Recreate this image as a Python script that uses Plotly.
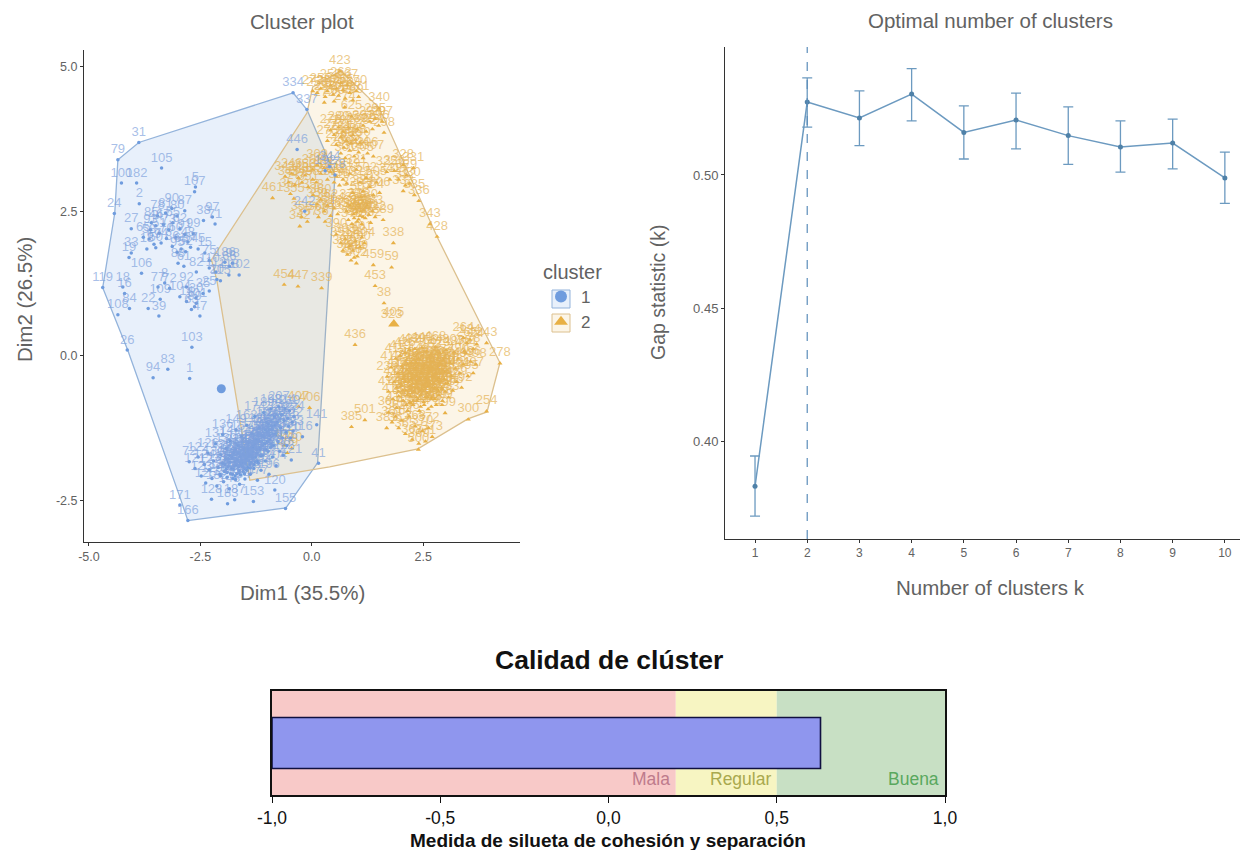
import plotly.graph_objects as go

# ---------- Cluster plot data ----------
blue_hull_x = [-0.42, -0.11, 0.52, 0.13, -0.58, -2.78, -2.96, -4.13, -4.69, -4.42, -4.35, -3.88, -0.42]
blue_hull_y = [4.55, 4.26, 3.13, -1.85, -2.63, -2.85, -2.44, 0.10, 1.18, 2.47, 3.39, 3.69, 4.55]
orange_hull_x = [0.65, 1.51, 2.81, 4.22, 3.93, 3.50, 2.38, 0.40, -1.39, -1.66, -2.13, -2.25, -0.11, 0.02, 0.65]
orange_hull_y = [4.93, 4.29, 2.06, -0.12, -0.97, -1.09, -1.61, -1.92, -2.15, -0.88, 1.31, 1.66, 4.20, 4.65, 4.93]

blue_upper_x = [-0.42, -0.11, -3.88, -4.35, -3.37, -4.27, -3.93, -3.87, -2.61, -2.63, -4.43, -4.05, -3.60,
                -3.46, -3.28, -3.14, -3.02, -2.85, -2.43, -2.23, -2.17, -3.62, -3.50, -3.42, -3.33, -3.21,
                -3.12, -3.05, -2.96, -2.85, -2.78, -2.66, -3.78, -3.65, -3.54, -3.38, -3.26, -3.13, -3.02,
                -2.93, -2.83, -2.72, -2.55, -2.40, -2.30, -4.05, -3.70, -3.50, -4.10, -3.00, -2.87, -2.59,
                -2.30, -2.15, -1.95, -1.85, -1.78, -2.05, -1.86, -1.63, -2.30, -2.13, -3.82, -3.30, -3.19,
                -3.40, -2.60, -4.69, -4.35, -4.09, -3.67, -3.43, -2.51, -3.45, -2.81, -4.24, -4.20, -2.96,
                -2.81, -2.59, -2.44, -2.63, -2.70, -0.33, -0.16, 0.40, 0.52, 0.30]
blue_upper_y = [4.55, 4.26, 3.69, 3.39, 3.25, 2.99, 2.99, 2.63, 2.92, 2.84, 2.46, 2.20, 2.30,
                2.42, 2.47, 2.55, 2.42, 2.51, 2.34, 2.40, 2.28, 2.18, 2.25, 2.12, 2.27, 2.18,
                2.30, 2.05, 2.20, 2.10, 1.97, 2.11, 2.05, 2.02, 1.93, 1.95, 2.03, 1.89, 1.79,
                1.85, 1.80, 1.88, 1.85, 1.78, 1.65, 1.78, 1.85, 1.87, 1.70, 1.60, 1.55, 1.45,
                1.52, 1.45, 1.62, 1.55, 1.60, 1.30, 1.40, 1.40, 1.12, 1.32, 1.43, 1.26, 1.17,
                0.98, 1.00, 1.18, 0.71, 0.82, 0.82, 0.69, 0.69, 1.19, 1.19, 1.19, 1.08, 1.02,
                0.94, 0.91, 1.08, 0.85, 0.80, 3.57, 2.50, 3.27, 3.13, 3.20]
blue_upper_labels = """334 337 31 79 105 100 182 2 5 107 24 27 85
78 81 90 80 87 38 97 71 93 44 51 67 73
55 60 62 91 48 99 65 58 69 74 70 86 95
68 52 57 45 15 75 33 13 50 19 88 61 82
110 112 186 66 98 115 118 102 25 20 106 8 72
109 30 119 108 84 22 39 47 77 92 18 16 104
14 101 35 89 63 446 242 344 178 192""".split()

blue_lower_x = [-4.14, -2.69, -3.23, -3.56, -2.74, -2.96, -2.78, -0.59, 0.15, 0.11, -0.21, -1.31, -1.89, -2.25, -1.73, -0.83]
blue_lower_y = [0.10, 0.15, -0.23, -0.38, -0.39, -2.58, -2.85, -2.64, -1.86, -1.19, -1.40, -2.52, -2.56, -2.48, -2.49, -2.32]
blue_lower_labels = "26 103 83 94 1 171 166 155 41 141 116 153 183 128 187 120".split()

blue_blob_x = [-2.75, -2.62, -2.55, -2.48, -2.41, -2.38, -2.33, -2.30, -2.24, -2.20, -2.16, -2.13, -2.10, -2.06, -2.04,
               -2.00, -1.98, -1.95, -1.92, -1.90, -1.87, -1.85, -1.83, -1.80, -1.77, -1.75, -1.73, -1.70, -1.68, -1.66,
               -1.64, -1.62, -1.60, -1.58, -1.56, -1.54, -1.52, -1.50, -1.48, -1.46, -1.44, -1.42, -1.40, -1.38, -1.36,
               -1.34, -1.32, -1.30, -1.28, -1.26, -1.24, -1.22, -1.20, -1.18, -1.16, -1.14, -1.12, -1.10, -1.08, -1.06,
               -1.04, -1.02, -1.00, -0.98, -0.96, -0.94, -0.92, -0.90, -0.88, -0.86, -0.84, -0.82, -0.80, -0.78, -0.76,
               -0.74, -0.72, -0.70, -0.68, -0.66, -0.64, -0.62, -0.60, -0.58, -0.56, -0.54, -0.52, -0.50, -0.48, -0.46,
               -0.44, -0.42, -0.40, -1.92, -1.85, -1.78, -1.74, -1.71, -1.67, -1.63, -1.59, -1.55, -1.51, -1.47, -1.43,
               -1.39, -1.35, -1.31, -1.27, -1.23, -1.19, -1.15, -1.11, -1.07, -1.03, -0.99, -0.95, -0.91, -0.87, -0.83]
blue_blob_y = [-1.83, -1.95, -1.75, -2.08, -1.88, -2.20, -1.68, -1.97, -2.12, -1.82, -1.52, -2.25, -1.93, -2.05, -1.71,
               -1.36, -2.18, -1.88, -1.60, -2.02, -1.78, -2.30, -1.47, -1.95, -2.12, -1.67, -1.83, -1.28, -2.04, -1.55,
               -1.92, -2.22, -1.74, -1.40, -1.85, -2.00, -1.62, -2.13, -1.79, -1.20, -1.93, -1.50, -1.70, -2.05, -1.84,
               -1.35, -1.60, -1.95, -1.05, -1.75, -1.45, -2.15, -1.86, -1.25, -1.62, -1.98, -1.38, -1.72, -0.98, -1.52,
               -1.82, -1.15, -1.32, -1.65, -2.05, -1.45, -0.92, -1.22, -1.75, -1.55, -1.05, -1.35, -1.90, -1.15, -1.48,
               -0.88, -1.65, -1.25, -1.02, -1.42, -1.72, -1.12, -0.92, -1.32, -1.55, -1.08, -1.22, -0.95, -1.42, -1.80,
               -1.15, -1.30, -1.05, -1.96, -1.72, -2.05, -1.90, -1.62, -1.80, -2.02, -1.88, -1.70, -1.95, -1.78, -1.62,
               -1.88, -1.72, -1.55, -1.83, -1.62, -1.48, -1.73, -1.55, -1.40, -1.62, -1.48, -1.28, -1.53, -1.35, -1.20]
blue_blob_labels = """72 121 122 123 124 125 126 127 129 130 131 132 133 134 135
136 137 138 139 140 142 143 144 145 146 147 148 149 150 151
152 154 156 157 158 159 160 161 162 163 164 165 167 168 169
170 172 173 174 175 176 177 179 180 181 184 185 188 189 190
191 193 194 195 196 197 198 199 200 201 202 203 204 205 206
207 208 209 210 211 212 213 214 215 216 217 218 219 220 221
222 223 224 225 226 227 228 229 230 231 232 233 234 235 236
237 238 239 240 241 243 244 245 246 247 248 249 250 251 252""".split()
blue_core_x = [-2.05, -2.00, -1.96, -1.93, -1.90, -1.88, -1.84, -1.82, -1.79, -1.76, -1.72, -1.69, -1.66, -1.63, -1.60,
               -1.57, -1.55, -1.52, -1.49, -1.46, -1.44, -1.41, -1.38, -1.35, -1.33, -1.30, -1.27, -1.24, -1.22, -1.19,
               -1.16, -1.13, -1.10, -1.07, -1.04, -1.01, -0.98, -0.95, -0.92, -0.89, -1.71, -1.61, -1.51, -1.42, -1.32]
blue_core_y = [-2.08, -1.86, -2.00, -1.78, -2.10, -1.92, -1.84, -2.04, -1.76, -1.96, -2.08, -1.88, -1.68, -1.98, -2.06,
               -1.80, -1.92, -1.72, -1.86, -1.98, -1.66, -1.82, -1.94, -1.58, -1.76, -1.88, -1.52, -1.68, -1.82, -1.46,
               -1.58, -1.72, -1.40, -1.62, -1.28, -1.50, -1.18, -1.38, -1.58, -1.28, -2.14, -1.84, -2.04, -1.74, -1.66]
blue_core_labels = """4 6 7 9 10 11 12 17 21 23 28 29 32 34 36
37 40 42 43 46 49 53 54 56 59 64 76 96 111 113
114 117 119 121 122 123 124 125 126 127 129 130 131 132 133""".split()

orange_upper_x = [0.63, 1.51, 0.89, 0.12, 0.20, 0.30, 0.35, 0.42, 0.48, 0.50, 0.55, 0.60, 0.65, 0.70, 0.75, 0.80, 0.85, 0.92, 1.00, 1.05, 0.28, 0.02, 0.74,
                  0.35, 0.42, 0.50, 0.55, 0.60, 0.65, 0.70, 0.72, 0.78, 0.82, 0.88, 0.92, 0.98, 1.02, 1.08, 1.15, 1.22, 1.30, 1.36, 1.42, 1.50, 1.58, 1.62,
                  0.65, 0.75, 0.85, 0.95, 1.05, 1.15, 1.25, 1.38,
                  0.02, 0.12, 0.20, 0.28, 0.35, 0.42, 0.50, 0.55, 0.62, 0.70, 0.78, 0.85, 0.92, 1.00, 1.08, 1.15, 1.22, 1.30, 1.38, 1.45, 1.52, 1.10,
                  1.68, 1.85, 1.95, 2.05, 2.12, 2.20, 2.28, 2.10, 2.05, 2.30, 2.40, 1.75,
                  -0.60, -0.52, -0.45, -0.38, -0.30, -0.22, -0.15, -0.08, 0.02, 0.10, -0.48, -0.40, -0.88, -0.27, -0.23, -0.10,
                  0.03, 0.12, 0.20, 0.28, 0.35, 0.42, 0.50, 0.58, 0.15, 0.30,
                  0.78, 0.82, 0.86, 0.90, 0.94, 0.98, 1.02, 1.05, 1.08, 1.12, 1.16, 1.20, 1.24, 1.28, 1.32, 1.36, 1.42, 0.95, 1.00, 1.10, 1.15, 1.05, 1.60, 0.55,
                  0.65, 0.70, 0.75, 0.80, 0.85, 0.88, 0.92, 0.98, 1.02, 1.08, 1.12, 1.00, 0.95, 1.18,
                  2.81, 2.65, 1.83, 1.38, 1.79, 1.42, 1.62, -0.62, -0.31, 0.22, 0.97, 1.79, 1.83, 0.89, -0.05, -0.30, -0.62, -0.55, -0.45]
orange_upper_y = [4.92, 4.28, 4.14, 4.55, 4.62, 4.48, 4.58, 4.68, 4.52, 4.40, 4.62, 4.50, 4.72, 4.60, 4.45, 4.68, 4.55, 4.42, 4.58, 4.48, 4.38, 4.58, 4.30,
                  3.72, 3.90, 3.82, 3.65, 3.95, 3.78, 3.88, 3.60, 3.72, 3.95, 3.68, 3.82, 3.74, 3.92, 3.68, 3.98, 3.88, 4.05, 3.92, 4.10, 3.98, 4.05, 3.86,
                  3.50, 3.42, 3.55, 3.45, 3.52, 3.42, 3.50, 3.45,
                  3.22, 3.30, 3.15, 3.25, 3.05, 3.18, 3.00, 3.10, 2.95, 3.05, 2.98, 3.15, 2.82, 3.22, 3.00, 2.85, 3.08, 2.92, 2.78, 3.00, 2.82, 2.75,
                  3.18, 3.20, 3.05, 3.30, 3.12, 2.98, 3.25, 2.95, 2.85, 2.78, 2.68, 3.05,
                  3.10, 3.00, 3.15, 2.95, 3.08, 3.00, 3.12, 2.92, 3.05, 3.00, 2.80, 2.72, 2.73, 2.24, 2.40, 2.32,
                  2.78, 2.62, 2.70, 2.50, 2.60, 2.42, 2.55, 2.45, 2.40, 2.32,
                  2.50, 2.35, 2.60, 2.28, 2.45, 2.55, 2.32, 2.62, 2.42, 2.28, 2.52, 2.38, 2.60, 2.44, 2.30, 2.50, 2.40, 2.38, 2.48, 2.50, 2.40, 2.36, 2.35, 2.10,
                  1.95, 1.82, 2.02, 1.75, 1.90, 1.65, 1.82, 1.98, 1.72, 1.88, 2.05, 1.60, 1.70, 1.95,
                  2.06, 2.28, 1.95, 1.57, 1.53, 1.21, 0.91, 1.23, 1.20, 1.17, 0.19, 0.54, 0.56, -1.23, -0.90, -0.88, -1.55, -1.68, -1.60]
orange_upper_labels = """423 340 625 253 255 256 257 258 259 260 261 262 263 265 266 267 268 269 270 271 272 273 274
275 276 277 279 280 281 282 283 284 285 286 287 288 289 290 291 292 293 294 295 296 297 298
299 301 302 303 304 305 306 307
308 309 310 311 312 313 314 315 316 317 318 319 320 321 322 324 502 503 504 505 506 507
325 326 327 328 329 330 331 332 333 335 336 341
342 345 346 347 348 349 350 351 352 353 354 355 461 342 356 357
358 359 360 361 362 363 364 365 366 367
368 369 370 371 372 373 374 375 376 377 378 379 380 381 382 383 422 384 385 386 387 388 389 390
391 392 393 394 395 396 397 398 399 400 401 402 403 404
428 343 338 459 59 453 38 454 447 339 436 323 405 385 406 407 408 409 410""".split()

orange_blob_x = [1.69, 1.72, 1.78, 1.82, 1.85, 1.88, 1.90, 1.93, 1.95, 1.98, 2.00, 2.02, 2.05, 2.07, 2.09, 2.11, 2.13, 2.15, 2.17, 2.19,
                 2.21, 2.23, 2.25, 2.27, 2.29, 2.31, 2.33, 2.35, 2.37, 2.39, 2.41, 2.43, 2.45, 2.47, 2.49, 2.51, 2.53, 2.55, 2.57, 2.59,
                 2.61, 2.63, 2.65, 2.67, 2.69, 2.71, 2.73, 2.75, 2.77, 2.79, 2.81, 2.83, 2.85, 2.87, 2.89, 2.91, 2.93, 2.95, 2.97, 2.99,
                 3.01, 3.03, 3.05, 3.07, 3.10, 3.13, 3.16, 3.19, 3.22, 3.25, 3.28, 3.32, 3.36, 3.40, 3.45, 3.50, 3.56, 3.62, 3.68, 3.92,
                 3.51, 2.99, 2.39, 1.19, 1.68, 3.40, 3.48, 3.55, 3.62, 3.70, 3.42, 4.22, 3.92,
                 1.72, 1.80, 1.88, 1.95, 2.02, 2.10, 2.18, 2.25, 2.32, 2.40, 2.48, 2.55, 2.62, 2.70, 1.90, 2.05, 2.20, 2.35, 2.50, 2.60,
                 2.15, 2.22, 2.30, 2.38, 2.46, 2.54, 2.62, 2.70, 2.78, 2.86, 2.20, 2.28, 2.36, 2.44, 2.52, 2.60, 2.68, 2.76, 2.84, 2.92,
                 2.26, 2.34, 2.42, 2.50, 2.58, 2.66, 2.74, 2.82, 2.90, 2.98]
orange_blob_y = [-0.36, -0.62, -0.20, -0.75, -0.45, -0.05, -0.90, -0.30, -0.62, 0.00, -0.48, -0.18, -0.78, -0.35, 0.05, -0.60, -0.25, -0.95, -0.45, 0.10,
                 -0.70, -0.12, -0.38, -0.85, -0.55, 0.12, -0.25, -0.72, -0.42, -0.05, -0.95, -0.60, -0.30, 0.14, -0.50, -0.80, -0.15, -0.38, 0.08, -0.65,
                 -0.92, -0.25, -0.48, 0.02, -0.72, -0.35, -0.10, -0.58, 0.15, -0.85, -0.42, -0.18, -0.68, 0.05, -0.30, -0.55, -0.78, -0.08, -0.40, -0.62,
                 0.10, -0.25, -0.48, -0.72, -0.12, -0.35, -0.60, 0.06, -0.22, -0.45, -0.05, -0.30, -0.55, -0.15, 0.05, -0.35, -0.10, -0.30, -0.15, -0.96,
                 -1.10, -0.99, -1.62, -1.11, -1.25, 0.31, 0.22, 0.28, 0.12, 0.20, 0.08, -0.13, 0.22,
                 -0.98, -1.15, -1.05, -1.25, -1.12, -1.35, -1.05, -1.45, -1.22, -1.52, -1.30, -1.48, -1.25, -1.40, -0.55, -0.40, -0.58, -0.48, -0.62, -0.52,
                 -0.15, -0.42, -0.22, -0.55, -0.28, -0.48, -0.20, -0.55, -0.30, -0.45, -0.80, -0.62, -0.78, -0.68, -0.85, -0.72, -0.88, -0.75, -0.62, -0.85,
                 -0.32, -0.12, -0.38, -0.18, -0.42, -0.10, -0.36, -0.22, -0.15, -0.28]
orange_blob_labels = """239 411 412 413 414 415 416 417 418 419 420 421 424 425 426 427 429 430 431 432
433 434 435 437 438 439 440 441 442 443 444 445 448 449 450 451 452 455 456 457
458 460 462 463 464 465 466 467 468 469 470 471 472 473 474 475 476 477 478 479
480 481 482 483 484 485 486 487 488 489 490 491 492 493 494 495 496 497 498 254
300 499 500 501 381 264 265 124 78 24 36 278 243
360 361 362 363 364 365 366 367 368 369 370 371 372 373 374 375 376 377 378 379
380 381 382 383 384 385 386 387 388 389 390 391 392 393 394 395 396 397 398 399
400 401 402 403 404 405 406 407 408 409""".split()
orange_core_x = [1.95, 2.00, 2.05, 2.10, 2.14, 2.18, 2.22, 2.26, 2.30, 2.34, 2.38, 2.42, 2.46, 2.50, 2.54, 2.58, 2.62, 2.66, 2.70, 2.74,
                 2.78, 2.82, 2.86, 2.90, 2.94, 3.00, 3.06, 2.04, 2.12, 2.20, 2.28, 2.36, 2.44, 2.52, 2.60, 2.68, 2.76, 2.84, 2.92, 3.00]
orange_core_y = [-0.70, -0.52, -0.78, -0.45, -0.68, -0.30, -0.82, -0.48, -0.62, -0.20, -0.75, -0.42, -0.58, -0.22, -0.72, -0.46, -0.30, -0.62, -0.20, -0.48,
                 -0.32, -0.58, -0.12, -0.44, -0.25, -0.48, -0.30, -0.60, -0.85, -0.52, -0.78, -0.35, -0.88, -0.55, -0.40, -0.75, -0.55, -0.38, -0.58, -0.18]
orange_core_labels = """1 3 378 24 378 82 4 7 36 9 11 12 17 21 23 28 29 32 34 37
40 42 43 46 49 53 54 56 59 64 76 96 111 113 114 117 121 122 123 124""".split()

centroid_x = [-2.03, 1.84]
centroid_y = [-0.57, 0.55]

# ---------- Gap statistic data ----------
k_values = [1, 2, 3, 4, 5, 6, 7, 8, 9, 10]
gap_values = [0.3830, 0.5274, 0.5214, 0.5304, 0.5160, 0.5207, 0.5148, 0.5105, 0.5120, 0.4989]
gap_upper = [0.3944, 0.5365, 0.5316, 0.5400, 0.5260, 0.5308, 0.5256, 0.5203, 0.5210, 0.5086]
gap_lower = [0.3718, 0.5180, 0.5110, 0.5203, 0.5060, 0.5098, 0.5040, 0.5011, 0.5023, 0.4893]
optimal_k = 2

# ---------- Silhouette data ----------
zone_names = ["Mala", "Regular", "Buena"]
zone_starts = [-1.0, 0.2, 0.5]
zone_ends = [0.2, 0.5, 1.0]
silhouette = 0.63
silhouette_start = -1.0

W, H = 1260, 850
def px(x): return x / W
def py(y): return 1 - y / H

BLUE = "#6F9CDE"
ORANGE = "#E8B045"
BLUE_TEXT = "rgba(125,160,220,0.68)"
ORANGE_TEXT = "rgba(228,178,85,0.70)"
GRAY = "#626262"
SANS = "Liberation Sans"
STEEL = "#6C9AC0"

fig = go.Figure()

# hulls
fig.add_trace(go.Scatter(x=blue_hull_x, y=blue_hull_y, mode="lines", fill="toself",
                         fillcolor="rgba(110,160,230,0.16)", line=dict(color="#93B3DB", width=1.3),
                         showlegend=False, hoverinfo="skip"))
fig.add_trace(go.Scatter(x=orange_hull_x, y=orange_hull_y, mode="lines", fill="toself",
                         fillcolor="rgba(232,176,69,0.13)", line=dict(color="#DCC08E", width=1.3),
                         showlegend=False, hoverinfo="skip"))

# orange points first, so the blue ones lie on top
o_x = orange_upper_x + orange_blob_x + orange_core_x
o_y = orange_upper_y + orange_blob_y + orange_core_y
o_l = orange_upper_labels + orange_blob_labels + orange_core_labels
fig.add_trace(go.Scatter(x=o_x, y=o_y, text=o_l, mode="markers+text", name="2", legendrank=2,
                         textposition="top center", textfont=dict(size=13, color=ORANGE_TEXT, family=SANS),
                         marker=dict(symbol="triangle-up", size=4.5, color=ORANGE), cliponaxis=False))
b_x = blue_upper_x + blue_lower_x + blue_blob_x + blue_core_x
b_y = blue_upper_y + blue_lower_y + blue_blob_y + blue_core_y
b_l = blue_upper_labels + blue_lower_labels + blue_blob_labels + blue_core_labels
fig.add_trace(go.Scatter(x=b_x, y=b_y, text=b_l, mode="markers+text", name="1", legendrank=1,
                         textposition="top center", textfont=dict(size=13, color=BLUE_TEXT, family=SANS),
                         marker=dict(symbol="circle", size=3.5, color=BLUE), cliponaxis=False))
# centroids
fig.add_trace(go.Scatter(x=centroid_x[:1], y=centroid_y[:1], mode="markers", showlegend=False,
                         marker=dict(symbol="circle", size=9, color=BLUE)))
fig.add_trace(go.Scatter(x=centroid_x[1:], y=centroid_y[1:], mode="markers", showlegend=False,
                         marker=dict(symbol="triangle-up", size=10, color=ORANGE)))

# gap statistic
fig.add_trace(go.Scatter(x=k_values, y=gap_values, mode="lines+markers", xaxis="x2", yaxis="y2",
                         showlegend=False, line=dict(color=STEEL, width=1.5),
                         marker=dict(size=5, color="#4F81A8"),
                         error_y=dict(type="data", symmetric=False,
                                      array=[u - g for u, g in zip(gap_upper, gap_values)],
                                      arrayminus=[g - l for l, g in zip(gap_lower, gap_values)],
                                      color=STEEL, thickness=1.3, width=5)))

# silhouette zones and bar
zone_colors = ["#F8C9C8", "#F7F5C2", "#C8E0C4"]
for name, a, b, c in zip(zone_names, zone_starts, zone_ends, zone_colors):
    fig.add_trace(go.Bar(x=[b - a], y=[0], base=[a], orientation="h", width=1, xaxis="x3", yaxis="y3",
                         marker=dict(color=c, line=dict(width=0)), showlegend=False, name=name))
fig.add_trace(go.Bar(x=[silhouette - silhouette_start], y=[0], base=[silhouette_start], orientation="h",
                     width=0.49, xaxis="x3", yaxis="y3", showlegend=False,
                     marker=dict(color="#8F96EE", line=dict(width=1.6, color="#101040"))))

axis_line = dict(showline=True, linecolor="#333333", linewidth=1, ticks="outside", ticklen=3,
                 tickcolor="#333333", showgrid=False, zeroline=False, automargin=False)

def label(text, x, y, size, color=GRAY, angle=0, weight="normal"):
    return dict(text=text, x=px(x), y=py(y), xref="paper", yref="paper", showarrow=False,
                xanchor="center", yanchor="middle", textangle=angle,
                font=dict(size=size, color=color, family=SANS, weight=weight))

annotations = [
    label("Cluster plot", 302, 22, 20.5),
    label("Optimal number of clusters", 990, 20, 20.5),
    label("Calidad de clúster", 609, 660, 26.5, "#111111", weight="bold"),
    label("Dim1 (35.5%)", 302, 592, 20.5),
    label("Number of clusters k", 990, 587, 20.5),
    label("Dim2 (26.5%)", 24, 300, 20.5, angle=-90),
    label("Gap statistic (k)", 658, 293, 19.5, angle=-90),
    label("Medida de silueta de cohesión y separación", 608, 840, 19, "#111111", weight="bold"),
]
zone_text_colors = ["#BE7B8C", "#A9A94E", "#59A85E"]
for name, b, c in zip(zone_names, zone_ends, zone_text_colors):
    annotations.append(dict(text=name, x=b - 0.012, y=-0.346, xref="x3", yref="y3", xanchor="right",
                            yanchor="middle", showarrow=False, font=dict(size=17.5, color=c, family=SANS)))

fig.update_layout(
    width=W, height=H, autosize=False, margin=dict(l=0, r=0, t=0, b=0, autoexpand=False),
    paper_bgcolor="white", plot_bgcolor="white", barmode="overlay",
    font=dict(family=SANS, color=GRAY),
    annotations=annotations,
    xaxis=dict(domain=[px(84), px(520)], range=[-5.11, 4.67], tickvals=[-5, -2.5, 0, 2.5],
               ticktext=["-5.0", "-2.5", "0.0", "2.5"], tickfont=dict(size=12.5, color=GRAY), **axis_line),
    yaxis=dict(domain=[py(542), py(50)], range=[-3.22, 5.29], tickvals=[-2.5, 0, 2.5, 5],
               ticktext=["-2.5", "0.0", "2.5", "5.0"], tickfont=dict(size=12.5, color=GRAY), **axis_line),
    xaxis2=dict(domain=[px(725), px(1240)], range=[0.425, 10.29], tickvals=k_values,
                tickfont=dict(size=12, color=GRAY), anchor="y2", **axis_line),
    yaxis2=dict(domain=[py(539), py(47)], range=[0.3632, 0.5481], tickvals=[0.40, 0.45, 0.50],
                ticktext=["0.40", "0.45", "0.50"], tickfont=dict(size=13, color=GRAY), anchor="x2", **axis_line),
    xaxis3=dict(domain=[px(272), px(945)], range=[-1, 1], tickvals=[-1, -0.5, 0, 0.5, 1],
                ticktext=["-1,0", "-0,5", "0,0", "0,5", "1,0"], tickfont=dict(size=17.5, color="#111111"),
                anchor="y3", showline=True, linecolor="#111111", linewidth=1.5, mirror=True,
                ticks="outside", ticklen=6, tickcolor="#111111", showgrid=False, zeroline=False, automargin=False),
    yaxis3=dict(domain=[py(795), py(691)], range=[-0.5, 0.5], showticklabels=False, ticks="",
                anchor="x3", showline=True, linecolor="#111111", linewidth=1.5, mirror=True,
                showgrid=False, zeroline=False, automargin=False),
    legend=dict(x=px(541), y=py(253), xanchor="left", yanchor="top", bgcolor="rgba(0,0,0,0)",
                title=dict(text="cluster", font=dict(size=20, color=GRAY)),
                font=dict(size=17, color=GRAY), itemsizing="constant", itemwidth=30),
    shapes=[
        dict(type="rect", xref="paper", yref="paper", x0=px(552), x1=px(570), y0=py(290), y1=py(308),
             line=dict(color="#93B3DB", width=1), fillcolor="rgba(110,160,230,0.16)", layer="below"),
        dict(type="rect", xref="paper", yref="paper", x0=px(552), x1=px(570), y0=py(314), y1=py(332),
             line=dict(color="#DCC08E", width=1), fillcolor="rgba(232,176,69,0.13)", layer="below"),
        dict(type="line", xref="x2", yref="paper", x0=optimal_k, x1=optimal_k, y0=py(539), y1=py(47),
             line=dict(color="#5B8DBA", width=1.2, dash="dash")),
    ],
)
fig.write_html("out.html", config={"displayModeBar": False}, post_script="document.body.style.margin='0';")
